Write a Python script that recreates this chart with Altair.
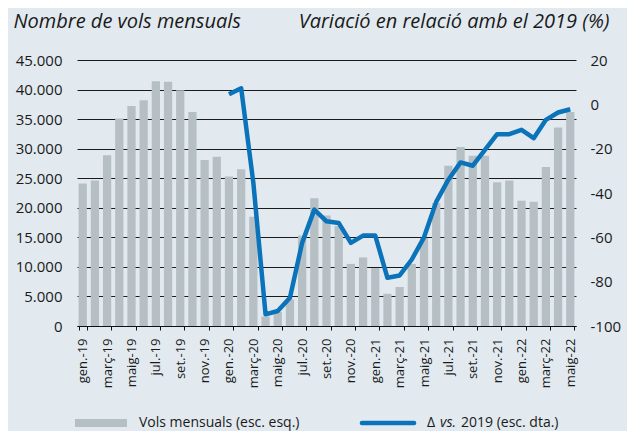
import altair as alt
import pandas as pd

months = [
    "gen.-19", "febr.-19", "març-19", "abr.-19", "maig-19", "juny-19",
    "jul.-19", "ag.-19", "set.-19", "oct.-19", "nov.-19", "des.-19",
    "gen.-20", "febr.-20", "març-20", "abr.-20", "maig-20", "juny-20",
    "jul.-20", "ag.-20", "set.-20", "oct.-20", "nov.-20", "des.-20",
    "gen.-21", "febr.-21", "març-21", "abr.-21", "maig-21", "juny-21",
    "jul.-21", "ag.-21", "set.-21", "oct.-21", "nov.-21", "des.-21",
    "gen.-22", "febr.-22", "març-22", "abr.-22", "maig-22",
]

tick_labels = [
    "gen.-19", "març-19", "maig-19", "jul.-19", "set.-19", "nov.-19",
    "gen.-20", "març-20", "maig-20", "jul.-20", "set.-20", "nov.-20",
    "gen.-21", "març-21", "maig-21", "jul.-21", "set.-21", "nov.-21",
    "gen.-22", "març-22", "maig-22",
]

vols = [
    24100, 24600, 28900, 35100, 37200, 38200, 41400, 41300, 39900, 36200, 28100, 28650,
    25300, 26500, 18500, 1600, 2400, 4500, 15300, 21600, 18700, 16900, 10500, 11600,
    9800, 5450, 6600, 10500, 14900, 20800, 27100, 30300, 28800, 28800, 24300, 24600,
    21200, 21000, 26900, 33600, 36200,
]

delta_months = months[12:]
delta = [
    4.5, 7.25, -35.5, -94.75, -93.25, -87.25, -62.5, -47.5, -52.75, -53.5, -62.5, -59.2,
    -59.2, -78.25, -77.2, -70.0, -60.0, -44.0, -34.0, -26.2, -27.7, -20.5, -13.45, -13.45,
    -11.5, -15.25, -7.0, -3.7, -2.2,
]

left_ticks = [0, 5000, 10000, 15000, 20000, 25000, 30000, 35000, 40000, 45000]
right_ticks = [-100, -80, -60, -40, -20, 0, 20]

bar_df = pd.DataFrame({"month": months, "vols": vols})
line_df = pd.DataFrame({"month": delta_months, "delta": delta})
one = pd.DataFrame({"k": [0]})

FONT = "Open Sans"
TXT = "#1a1a1a"
BAR = "#b6c0c4"
BLUE = "#0b73b9"
BG = "#e2eaf0"

xscale = alt.Scale(domain=months, paddingInner=0.32, paddingOuter=0.13)

bars = alt.Chart(bar_df).mark_bar(color=BAR).encode(
    x=alt.X("month:N", scale=xscale, title=None,
            axis=alt.Axis(values=tick_labels, labelAngle=-90, labelFontSize=13,
                          labelPadding=8, tickSize=4, tickColor="#111", domainColor="#111",
                          tickBand="extent", labelColor=TXT, grid=False,
                          labelOverlap=False)),
    y=alt.Y("vols:Q", scale=alt.Scale(domain=[0, 45000], nice=False),
            axis=alt.Axis(values=left_ticks, title="Nombre de vols mensuals",
                          titleAngle=0, titleAlign="left", titleBaseline="alphabetic",
                          titleX=-64, titleY=-33, titleFontStyle="italic",
                          titleFontSize=20, titleFontWeight="normal", titleColor=TXT,
                          labelExpr="replace(format(datum.value, ','), ',', '.')",
                          labelFontSize=15, labelColor=TXT, labelPadding=15,
                          ticks=False, domain=False, grid=True,
                          gridColor="#1a1a1a", gridWidth=1)),
)

line = alt.Chart(line_df).mark_line(color=BLUE, strokeWidth=4.5, strokeJoin="round").encode(
    x=alt.X("month:N", scale=xscale, title=None),
    y=alt.Y("delta:Q", scale=alt.Scale(domain=[-100, 20], nice=False),
            axis=alt.Axis(orient="right", values=right_ticks,
                          title="Variació en relació amb el 2019 (%)",
                          titleAngle=0, titleAlign="right", titleBaseline="alphabetic",
                          titleX=33, titleY=-33, titleFontStyle="italic",
                          titleFontSize=20, titleFontWeight="normal", titleColor=TXT,
                          labelExpr="'' + datum.value",
                          labelFontSize=15, labelColor=TXT, labelPadding=14,
                          ticks=False, domain=False, grid=False)),
)

LY = 363
leg_bar = alt.Chart(one).mark_rule(color=BAR, strokeWidth=8).encode(
    x=alt.value(-2), x2=alt.value(50), y=alt.value(LY))
leg_bar_txt = alt.Chart(one).mark_text(
    text="Vols mensuals (esc. esq.)", align="left", baseline="middle",
    fontSize=14, font=FONT, color=TXT).encode(x=alt.value(62), y=alt.value(LY))
leg_line = alt.Chart(one).mark_rule(color=BLUE, strokeWidth=4.7, strokeCap="round").encode(
    x=alt.value(285), x2=alt.value(337), y=alt.value(LY))
leg_t1 = alt.Chart(one).mark_text(
    text="Δ", align="left", baseline="middle",
    fontSize=14, font=FONT, color=TXT).encode(x=alt.value(350), y=alt.value(LY))
leg_t2 = alt.Chart(one).mark_text(
    text="vs.", align="left", baseline="middle", fontStyle="italic",
    fontSize=14, font=FONT, color=TXT).encode(x=alt.value(363), y=alt.value(LY))
leg_t3 = alt.Chart(one).mark_text(
    text="2019 (esc. dta.)", align="left", baseline="middle",
    fontSize=14, font=FONT, color=TXT).encode(x=alt.value(384), y=alt.value(LY))

chart = alt.layer(bars, line, leg_bar, leg_bar_txt, leg_line, leg_t1, leg_t2, leg_t3).resolve_scale(
    y="independent"
).properties(
    width=499, height=266,
    autosize=alt.AutoSizeParams(type="none"),
    padding={"left": 69, "top": 52, "right": 51, "bottom": 105},
    background=BG,
).configure(font=FONT).configure_view(stroke=None)

chart.save("out.html", embed_options={"renderer": "svg", "actions": False})
